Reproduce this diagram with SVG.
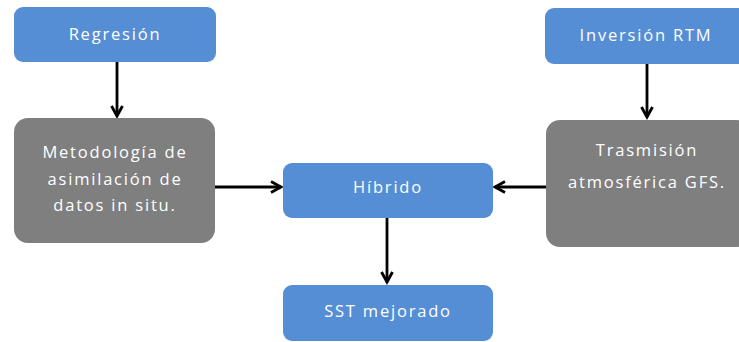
<svg xmlns="http://www.w3.org/2000/svg" width="739" height="342" viewBox="0 0 739 342">
<defs>
<style>
.blue{fill:#558ED5;}
.gray{fill:#7F7F7F;}
.t{font-family:"Open Sans","Liberation Sans",sans-serif;font-size:16.5px;fill:#ffffff;text-anchor:middle;letter-spacing:1.8px;}
.c{stroke:#000;stroke-width:2.8;fill:none;}
</style>
<marker id="ah" markerWidth="14" markerHeight="14" refX="11" refY="7" orient="auto" markerUnits="userSpaceOnUse">
<path d="M1,1.5 L11,7 L1,12.5" fill="none" stroke="#000" stroke-width="2.8"/>
</marker>
</defs>
<rect width="739" height="342" fill="#ffffff"/>
<g id="connectors">
<line class="c" x1="117" y1="62" x2="117" y2="116" marker-end="url(#ah)"/>
<line class="c" x1="647" y1="64" x2="647" y2="117" marker-end="url(#ah)"/>
<line class="c" x1="215" y1="187" x2="281" y2="187" marker-end="url(#ah)"/>
<line class="c" x1="546" y1="187" x2="495" y2="187" marker-end="url(#ah)"/>
<line class="c" x1="387" y1="218" x2="387" y2="282" marker-end="url(#ah)"/>
</g>
<g id="regresion">
<rect class="blue" x="14" y="7" width="202" height="55" rx="9"/>
<text class="t" x="115" y="40">Regresión</text>
</g>
<g id="inversion">
<rect class="blue" x="545" y="8" width="204" height="56" rx="9"/>
<text class="t" x="646" y="41">Inversión RTM</text>
</g>
<g id="metodologia">
<rect class="gray" x="14" y="118" width="201" height="125" rx="14"/>
<text class="t" x="115" y="158">Metodología de</text>
<text class="t" x="115" y="185">asimilación de</text>
<text class="t" x="115" y="211">datos in situ.</text>
</g>
<g id="hibrido">
<rect class="blue" x="283" y="163" width="210" height="55" rx="9"/>
<text class="t" x="388" y="193">Híbrido</text>
</g>
<g id="trasmision">
<rect class="gray" x="546" y="120" width="204" height="127" rx="14"/>
<text class="t" x="647" y="156">Trasmisión</text>
<text class="t" x="647" y="188">atmosférica GFS.</text>
</g>
<g id="sst">
<rect class="blue" x="283" y="285" width="210" height="56" rx="9"/>
<text class="t" x="388" y="317">SST mejorado</text>
</g>
</svg>
